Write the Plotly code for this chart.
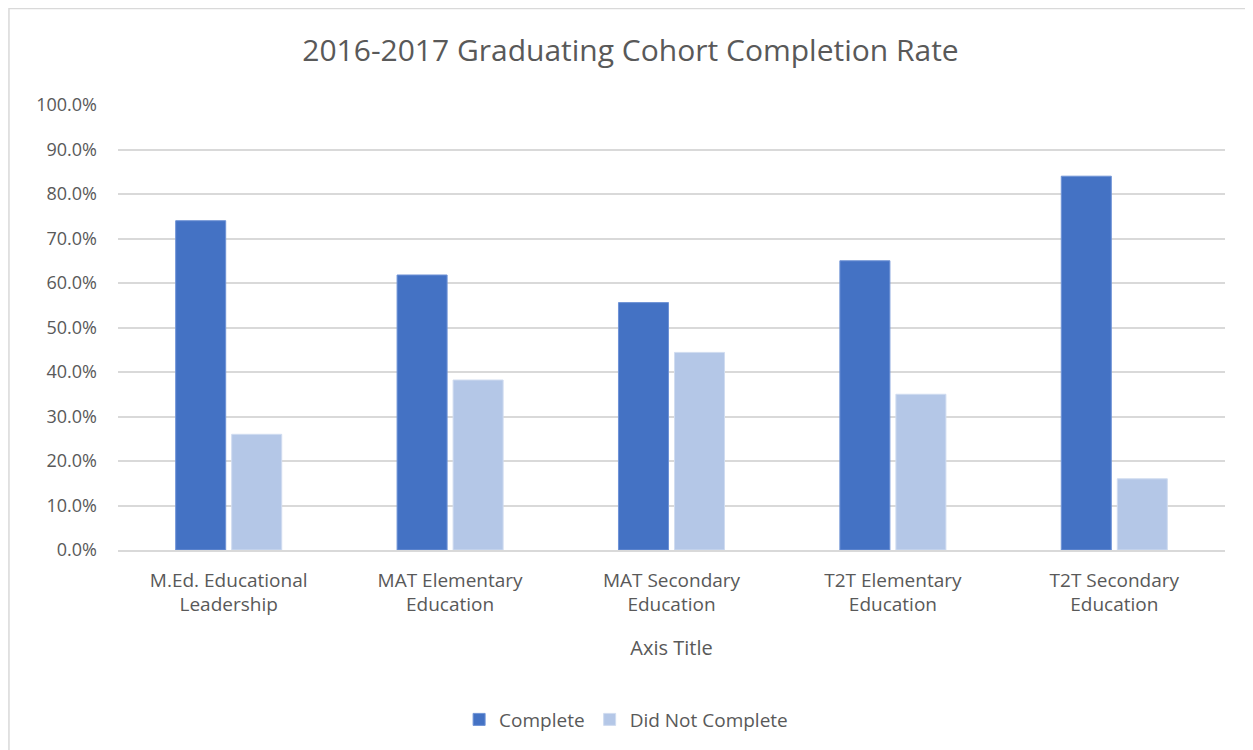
import plotly.graph_objects as go

categories = ["M.Ed. Educational<br>Leadership", "MAT Elementary<br>Education", "MAT Secondary<br>Education",
              "T2T Elementary<br>Education", "T2T Secondary<br>Education"]
complete = [0.740, 0.618, 0.556, 0.650, 0.840]
did_not_complete = [0.260, 0.382, 0.444, 0.350, 0.160]
y_ticks = [i / 10 for i in range(11)]

FONT = "Open Sans"
GRAY = "#595959"

fig = go.Figure()
fig.add_trace(go.Bar(name="Complete", x=categories, y=complete,
                     marker=dict(color="#4472C4", line=dict(color="#6F93D6", width=1))))
fig.add_trace(go.Bar(name="Did Not Complete", x=categories, y=did_not_complete,
                     marker=dict(color="#B4C7E7", line=dict(color="#D0DCF0", width=1))))

fig.update_layout(
    width=1245, height=742,
    paper_bgcolor="white", plot_bgcolor="white",
    margin=dict(l=110, r=28, t=97, b=193),
    barmode="group", bargap=0.494, bargroupgap=0.107,
    title=dict(text="2016-2017 Graduating Cohort Completion Rate", x=0.5, xanchor="center",
               y=0.943, yanchor="middle", font=dict(family=FONT, size=30, color=GRAY)),
    font=dict(family=FONT, color=GRAY, size=19),
    showlegend=True,
    legend=dict(orientation="h", x=0.459, xanchor="center", y=-0.381, yanchor="middle",
                font=dict(family=FONT, size=19, color=GRAY), itemwidth=30, traceorder="normal"),
    xaxis=dict(title=dict(text="Axis Title", font=dict(family=FONT, size=20, color=GRAY), standoff=25),
               tickfont=dict(family=FONT, size=19, color=GRAY), showgrid=False,
               showline=True, linecolor="#D9D9D9", linewidth=1.5, ticks="", ticklabelstandoff=12),
    yaxis=dict(range=[0, 1.0], tickvals=y_ticks, tickformat=".1%",
               tickfont=dict(family=FONT, size=18, color=GRAY),
               showgrid=True, gridcolor="#D9D9D9", gridwidth=1.5, zeroline=False,
               showline=False, ticks="", ticklabelstandoff=20),
    shapes=[dict(type="rect", xref="paper", yref="paper", x0=-0.0985, x1=1.0256, y0=-0.47, y1=1.2168,
                 line=dict(color="#D9D9D9", width=1.5), fillcolor="rgba(0,0,0,0)", layer="below")],
)

fig.write_html("out.html")
